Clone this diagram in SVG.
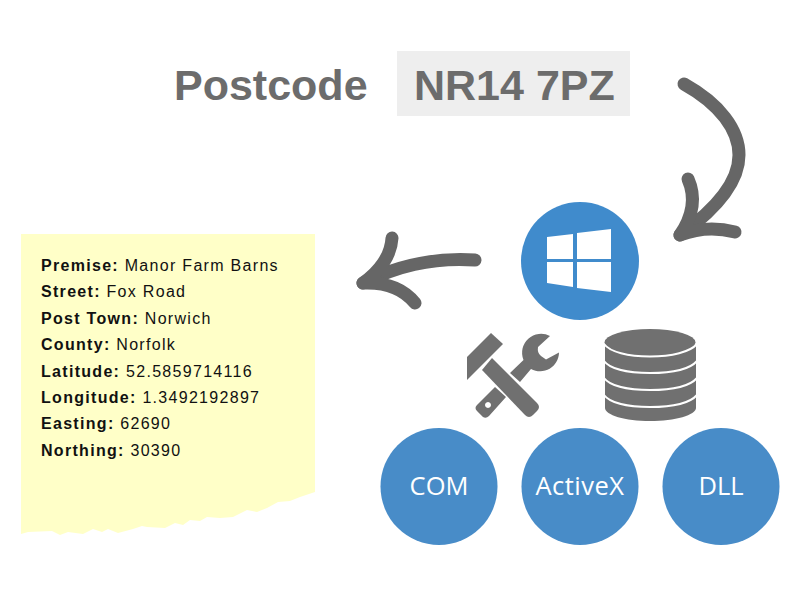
<svg xmlns="http://www.w3.org/2000/svg" width="800" height="600" viewBox="0 0 800 600">
<style>
.big{font:bold 43px "Liberation Sans",Arial,sans-serif;fill:#6c6c6c}
.info{font:16px "Liberation Sans",Arial,sans-serif;fill:#111;letter-spacing:1.3px}
.info tspan{font-weight:bold}
.disc{fill:#488cc8}
.lbl{font:500 25.500px "Open Sans",sans-serif;fill:#fff;text-anchor:middle}
.arrow{fill:none;stroke:#666;stroke-width:13;stroke-linecap:round;stroke-linejoin:round}
.icon{fill:#707070}
.gap{fill:none;stroke:#fff;stroke-width:2}
</style>
<rect width="800" height="600" fill="#fff"/>
<g id="postcode-label"><text class="big" x="174" y="99.500">Postcode</text></g>
<g id="postcode-value"><rect x="397" y="51" width="233" height="65" fill="#eee"/><text class="big" x="414" y="99.500">NR14 7PZ</text></g>
<g id="address-note">
<path fill="#ffffc8" d="M21 234H315V492L300 497L290 501L278 502L267 508L257 512L247 510L233 517L220 518L207 517L200 521L190 520L183 525L175 523L165 528L147 527L142 526L133 529L118 533L108 529L102 532L93 529L83 534L68 532L60 535L52 531L28 532L21 534Z"/>
<text class="info" x="41" y="271"><tspan>Premise:</tspan> Manor Farm Barns</text>
<text class="info" x="41" y="297.400"><tspan>Street:</tspan> Fox Road</text>
<text class="info" x="41" y="323.800"><tspan>Post Town:</tspan> Norwich</text>
<text class="info" x="41" y="350.200"><tspan>County:</tspan> Norfolk</text>
<text class="info" x="41" y="376.600"><tspan>Latitude:</tspan> 52.5859714116</text>
<text class="info" x="41" y="403"><tspan>Longitude:</tspan> 1.3492192897</text>
<text class="info" x="41" y="429.400"><tspan>Easting:</tspan> 62690</text>
<text class="info" x="41" y="455.800"><tspan>Northing:</tspan> 30390</text>
</g>
<g id="windows">
<circle cx="580" cy="261" r="59" fill="#408bcc"/>
<path fill="#fff" d="M547 237L573 234V259H547ZM577 233L611 229V259H577ZM547 262H573V287L547 283ZM577 262H611V292L577 288Z"/>
</g>
<g id="tools">
<path class="icon" d="M467 357L491 333L503 344L467 380Z"/>
<path class="icon" d="M492 358L482 370L525 415Q529 419 533 415L537 411Q541 407 537 403Z"/>
<path class="icon" fill-rule="evenodd" d="M495 387L477 405Q474 408 477 411L483 417Q486 419 489 416L506 397ZM488 402a3 3 0 1 0 .01 0Z"/>
<path class="icon" d="M510 373L523.500 360A19 19 0 0 1 550 336L538 347Q537 353 541 356L546 359.500L559 352.500A19 19 0 0 1 531 369L520 382Z"/>
</g>
<g id="database">
<path class="icon" d="M605 345V408C605 415 625 421 650 421S696 415 696 408V345Z"/>
<ellipse class="icon" cx="650" cy="342.500" rx="45.500" ry="13.500"/>
<path class="gap" d="M604 344C610 352 628 356.500 650 356.500S690 352 697 344"/>
<path class="gap" d="M604 361C610 369 628 373 650 373S690 369 697 361"/>
<path class="gap" d="M604 378C610 386 628 390 650 390S690 386 697 378"/>
<path class="gap" d="M604 395C610 403 628 407 650 407S690 403 697 395"/>
</g>
<g id="com"><circle class="disc" cx="439" cy="486.500" r="58.500"/><text class="lbl" x="439" y="495">COM</text></g>
<g id="activex"><circle class="disc" cx="580" cy="486.500" r="58.500"/><text class="lbl" x="580" y="495" style="letter-spacing:.5px">ActiveX</text></g>
<g id="dll"><circle class="disc" cx="721" cy="486.500" r="58.500"/><text class="lbl" x="721" y="495">DLL</text></g>
<g id="connectors">
<path class="arrow" d="M684 84C720 104 739 130 739 155C739 185 712 212 680 235"/>
<path class="arrow" d="M688 179C696 197 693 216 680 235C698 228 716 227 735 232"/>
<path class="arrow" d="M475 260C430 257 395 267 363 283"/>
<path class="arrow" d="M392 238C391 256 379 272 363 283C385 282 403 288 415 303"/>
</g>
</svg>
